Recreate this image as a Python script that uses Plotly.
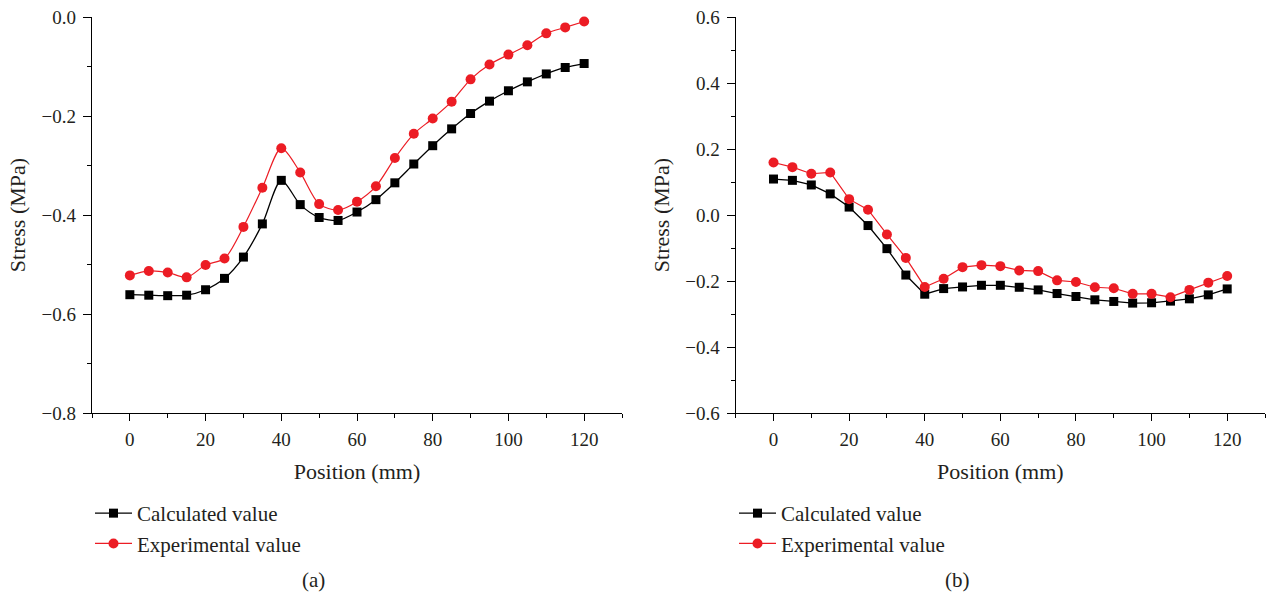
import plotly.graph_objects as go

# ---------------- data ----------------
position = [0, 5, 10, 15, 20, 25, 30, 35, 40, 45, 50, 55, 60, 65, 70, 75, 80,
            85, 90, 95, 100, 105, 110, 115, 120]

calc_a = [-0.561, -0.562, -0.563, -0.562, -0.551, -0.528, -0.485, -0.418, -0.330,
          -0.379, -0.405, -0.411, -0.394, -0.369, -0.335, -0.297, -0.260, -0.226,
          -0.195, -0.170, -0.149, -0.131, -0.115, -0.102, -0.094]
exp_a = [-0.522, -0.513, -0.516, -0.526, -0.501, -0.488, -0.424, -0.345, -0.265,
         -0.314, -0.378, -0.390, -0.373, -0.342, -0.285, -0.236, -0.205, -0.171,
         -0.126, -0.096, -0.076, -0.057, -0.033, -0.021, -0.009]

calc_b = [0.109, 0.105, 0.091, 0.064, 0.024, -0.032, -0.102, -0.182, -0.240,
          -0.223, -0.218, -0.213, -0.213, -0.219, -0.227, -0.238, -0.247, -0.257,
          -0.262, -0.267, -0.266, -0.261, -0.254, -0.242, -0.224]
exp_b = [0.159, 0.145, 0.125, 0.129, 0.048, 0.016, -0.059, -0.130, -0.218,
         -0.193, -0.158, -0.152, -0.155, -0.168, -0.170, -0.198, -0.203, -0.219,
         -0.222, -0.239, -0.239, -0.249, -0.227, -0.205, -0.185]

x_ticks = [0, 20, 40, 60, 80, 100, 120]
y_ticks_a = [0.0, -0.2, -0.4, -0.6, -0.8]
y_ticks_b = [0.6, 0.4, 0.2, 0.0, -0.2, -0.4, -0.6]
series_names = ["Calculated value", "Experimental value"]
panel_labels = ["(a)", "(b)"]

# ---------------- style ----------------
FONT = "Liberation Serif"
BLACK = "#000000"
TEXT = "#231f20"
RED = "#EC1C24"
W, H = 1268, 597

fig = go.Figure()

def add_pair(xref, yref, calc, exp, shape, legend):
    fig.add_trace(go.Scatter(
        x=position, y=calc, name=series_names[0], mode="lines+markers",
        line=dict(color=BLACK, width=1.3, shape=shape, smoothing=0.8),
        marker=dict(symbol="square", size=9, color=BLACK),
        xaxis=xref, yaxis=yref, legend=legend, legendgroup="c" + legend,
        cliponaxis=False))
    fig.add_trace(go.Scatter(
        x=position, y=exp, name=series_names[1], mode="lines+markers",
        line=dict(color=RED, width=1.2, shape=shape, smoothing=0.8),
        marker=dict(symbol="circle", size=10, color=RED),
        xaxis=xref, yaxis=yref, legend=legend, legendgroup="e" + legend,
        cliponaxis=False))

add_pair("x", "y", calc_a, exp_a, "spline", "legend")
add_pair("x2", "y2", calc_b, exp_b, "linear", "legend2")

ydom = [1 - 413 / H, 1 - 17 / H]
dom_a = [92 / W, 622 / W]
dom_b = [735.7 / W, 1265 / W]

def xaxis(domain, anchor):
    return dict(
        domain=domain, anchor=anchor, range=[-10, 130],
        tickvals=x_ticks, ticks="outside", ticklen=7, tickwidth=1.2,
        tickcolor=BLACK, showline=True, linecolor=BLACK, linewidth=1.3,
        showgrid=False, zeroline=False, ticklabelstandoff=2,
        minor=dict(dtick=10, tick0=0, ticks="outside", ticklen=4,
                   tickwidth=1.2, tickcolor=BLACK, showgrid=False),
        tickfont=dict(family=FONT, size=19, color=TEXT),
        title=dict(text="Position (mm)", standoff=14,
                   font=dict(family=FONT, size=22, color=TEXT)),
        automargin=False)

def yaxis(domain, anchor, rng, ticks, minor_dtick):
    return dict(
        domain=domain, anchor=anchor, range=rng,
        tickvals=ticks, tickformat=".1f", ticks="outside", ticklen=8,
        tickwidth=1.2, tickcolor=BLACK, showline=True, linecolor=BLACK,
        linewidth=1.3, showgrid=False, zeroline=False, ticklabelstandoff=3,
        minor=dict(dtick=minor_dtick, tick0=0, ticks="outside", ticklen=4,
                   tickwidth=1.2, tickcolor=BLACK, showgrid=False),
        tickfont=dict(family=FONT, size=19, color=TEXT),
        title=dict(text="Stress (MPa)", standoff=9,
                   font=dict(family=FONT, size=22, color=TEXT)),
        automargin=False)

legend_common = dict(
    orientation="v", xanchor="left", yanchor="top",
    font=dict(family=FONT, size=21, color=TEXT),
    bgcolor="rgba(0,0,0,0)", traceorder="grouped", tracegroupgap=0,
    itemwidth=37)

fig.update_layout(
    width=W, height=H,
    margin=dict(l=0, r=0, t=0, b=0),
    paper_bgcolor="white", plot_bgcolor="white",
    showlegend=True,
    xaxis=xaxis(dom_a, "y"),
    yaxis=yaxis(ydom, "x", [-0.8, 0.0], y_ticks_a, 0.1),
    xaxis2=xaxis(dom_b, "y2"),
    yaxis2=yaxis(ydom, "x2", [-0.6, 0.6], y_ticks_b, 0.1),
    legend=dict(x=90 / W, y=1 - 493 / H, **legend_common),
    legend2=dict(x=734 / W, y=1 - 493 / H, **legend_common),
    annotations=[
        dict(text=panel_labels[0], x=313 / W, y=1 - 580 / H, xref="paper",
             yref="paper", showarrow=False, xanchor="center", yanchor="middle",
             font=dict(family=FONT, size=21, color=TEXT)),
        dict(text=panel_labels[1], x=957 / W, y=1 - 580 / H, xref="paper",
             yref="paper", showarrow=False, xanchor="center", yanchor="middle",
             font=dict(family=FONT, size=21, color=TEXT)),
    ],
)

fig.write_html("out.html",
               config={"displayModeBar": False},
               post_script="document.body.style.margin='0px';")
